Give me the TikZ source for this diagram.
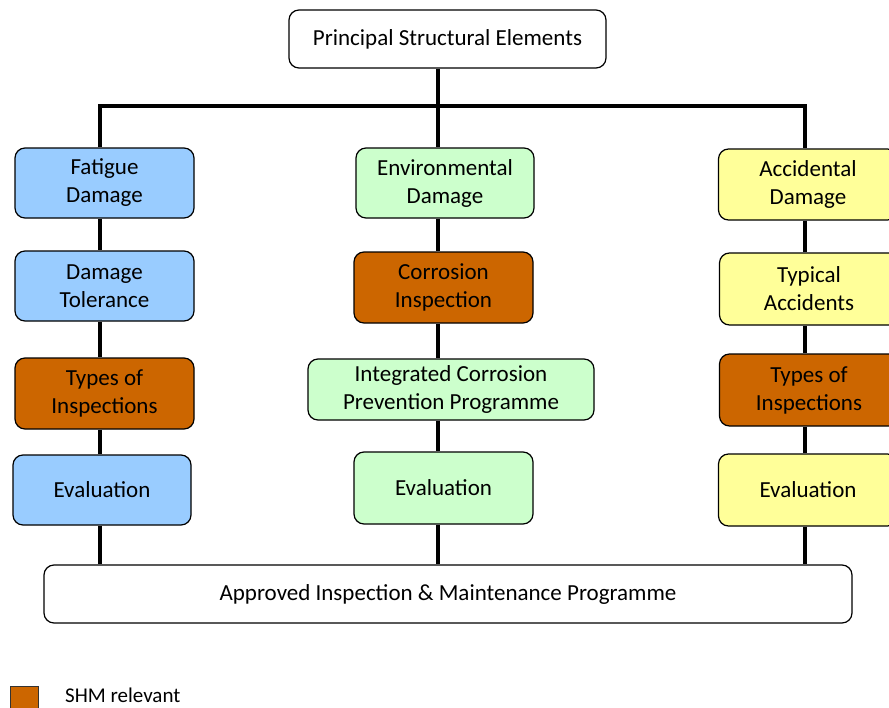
\documentclass[tikz,border=0pt]{standalone}
\usepackage{fontspec}
\setmainfont{Carlito}
\usetikzlibrary{backgrounds}
\definecolor{fatblue}{HTML}{99CCFF}
\definecolor{envgreen}{HTML}{CCFFCC}
\definecolor{accyellow}{HTML}{FFFF99}
\definecolor{shmorange}{HTML}{CC6600}
\begin{document}
\begin{tikzpicture}[x=1pt,y=-1pt,
  box/.style={draw=black, line width=1.2pt, rounded corners=10pt, inner sep=0pt,
    align=center, font=\fontsize{23}{28}\selectfont},
  wbox/.style={box, fill=white},
  bluebox/.style={box, fill=fatblue},
  greenbox/.style={box, fill=envgreen},
  yellowbox/.style={box, fill=accyellow},
  shmbox/.style={box, fill=shmorange},
  link/.style={line width=4pt, line join=miter}]
\useasboundingbox (0,0) rectangle (889,707);

% top and bottom boxes
\node[wbox, minimum width=317pt, minimum height=58pt] (top) at (447.5,39) {Principal Structural Elements};
\node[wbox, minimum width=808pt, minimum height=58pt] (prog) at (448,594) {Approved Inspection \& Maintenance Programme};

% fatigue column
\node[bluebox, minimum width=179pt, minimum height=70pt] (fat) at (104.5,183) {Fatigue\\Damage};
\node[bluebox, minimum width=179pt, minimum height=70pt] (dt) at (104.5,286) {Damage\\Tolerance};
\node[shmbox, minimum width=179pt, minimum height=71pt] (ti1) at (104.5,393.5) {Types of\\Inspections};
\node[bluebox, minimum width=178pt, minimum height=70pt] (ev1) at (102,490) {Evaluation};

% environmental column
\node[greenbox, minimum width=178pt, minimum height=70pt] (env) at (445,183) {Environmental\\Damage};
\node[shmbox, minimum width=179pt, minimum height=71pt] (ci) at (443.5,287.5) {Corrosion\\Inspection};
\node[greenbox, minimum width=286pt, minimum height=61pt] (icp) at (451,389.5) {Integrated Corrosion\\Prevention Programme};
\node[greenbox, minimum width=179pt, minimum height=72pt] (ev2) at (443.5,488) {Evaluation};

% accidental column
\node[yellowbox, minimum width=179pt, minimum height=71pt] (ad) at (808,184.5) {Accidental\\Damage};
\node[yellowbox, minimum width=179pt, minimum height=72pt] (ta) at (809,289) {Typical\\Accidents};
\node[shmbox, minimum width=179pt, minimum height=72pt] (ti3) at (809,390) {Types of\\Inspections};
\node[yellowbox, minimum width=179pt, minimum height=72pt] (ev3) at (808,490) {Evaluation};

% junction points of the tree
\coordinate (jl) at (100,106);
\coordinate (jm) at (438,106);
\coordinate (jr) at (805,106);

\begin{scope}[on background layer]
  \draw[link] (fat.north -| jl) -- (jl) -- (jr) -- (ad.north -| jr);
  \draw[link] (top.south -| jm) -- (env.north -| jm);
  % left spine
  \draw[link] (fat.south -| jl) -- (dt.north -| jl);
  \draw[link] (dt.south -| jl) -- (ti1.north -| jl);
  \draw[link] (ti1.south -| jl) -- (ev1.north -| jl);
  \draw[link] (ev1.south -| jl) -- (prog.north -| jl);
  % middle spine
  \draw[link] (env.south -| jm) -- (ci.north -| jm);
  \draw[link] (ci.south -| jm) -- (icp.north -| jm);
  \draw[link] (icp.south -| jm) -- (ev2.north -| jm);
  \draw[link] (ev2.south -| jm) -- (prog.north -| jm);
  % right spine
  \draw[link] (ad.south -| jr) -- (ta.north -| jr);
  \draw[link] (ta.south -| jr) -- (ti3.north -| jr);
  \draw[link] (ti3.south -| jr) -- (ev3.north -| jr);
  \draw[link] (ev3.south -| jr) -- (prog.north -| jr);
\end{scope}

% legend
\node[draw=black!80, line width=1pt, fill=shmorange, minimum size=28pt, inner sep=0pt] (key) at (24,700) {};
\node[anchor=base west, inner sep=0pt, font=\fontsize{21}{25}\selectfont] (keytext) at (65,702) {SHM relevant};
\end{tikzpicture}
\end{document}
